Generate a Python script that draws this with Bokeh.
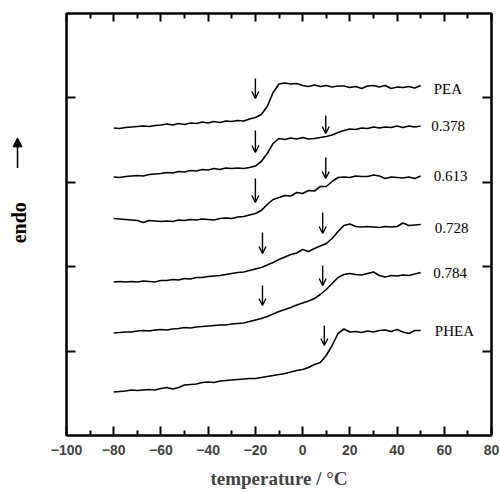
from math import pi
from bokeh.plotting import figure
from bokeh.layouts import row
from bokeh.models import (Range1d, LinearAxis, FixedTicker, Arrow, OpenHead, NormalHead,
                          ColumnDataSource, CustomJSTickFormatter)
from bokeh.core.properties import value
from bokeh.embed import file_html
from bokeh.resources import INLINE

# temperature grid (deg C)
temperature = [-80, -77.5, -75, -72.5, -70, -67.5, -65, -62.5, -60, -57.5, -55, -52.5, -50,
               -47.5, -45, -42.5, -40, -37.5, -35, -32.5, -30, -27.5, -25, -22.5, -20,
               -17.5, -15, -12.5, -10, -7.5, -5, -2.5, 0, 2.5, 5, 7.5, 10, 12.5, 15,
               17.5, 20, 22.5, 25, 27.5, 30, 32.5, 35, 37.5, 40, 42.5, 45, 47.5, 50]

# endotherm signal (arbitrary units, curves shifted vertically)
pea = [307.5, 307, 308, 308.5, 309, 309.5, 309, 310, 310.5, 311.5, 310.5, 312, 311,
       312.5, 312, 313.5, 312.5, 314, 313, 314.5, 314, 315, 314.5, 316.5, 318,
       321, 329, 343, 351.5, 352.5, 351.5, 352, 350, 349, 350.5, 349, 350, 348.5, 349.5,
       349.5, 348, 349, 347, 349.5, 350, 348.5, 350, 347, 348.5, 348, 349, 347.5, 350]
c0378 = [258.5, 258, 259, 259.5, 260, 259.5, 261, 261.5, 262, 263, 262.5, 264, 263.5,
         265, 264.5, 266, 265.5, 267, 266, 267.5, 267, 267.5, 267, 268, 269.5,
         274, 282, 292, 297, 296, 297.5, 296.5, 298, 296.5, 297, 298, 299, 300.5, 303,
         305, 306.5, 306, 307.5, 307, 308.5, 307.5, 308.5, 308, 309.5, 308, 309.5, 308.5, 309.5]
c0613 = [217, 216.5, 216, 215.5, 215, 213, 215, 214.5, 214, 214.5, 214, 215.5, 215,
         216, 215.5, 216.5, 216, 215.5, 217, 217.5, 217, 218.5, 219, 220.5, 222,
         225, 231, 236, 238, 240, 239.5, 243, 242, 245, 244.5, 249, 249, 254, 258,
         258.5, 258, 259.5, 259, 259, 260.5, 259.5, 257, 258.5, 258, 257.5, 258.5, 257, 259.5]
c0728 = [153.5, 154, 153.5, 154, 153.5, 154.5, 154, 153.5, 155, 155, 156, 155.5, 157,
         156.5, 158, 158, 159, 159.5, 160, 161, 162, 163, 163.5, 165, 166.5,
         168, 170.5, 173, 176, 178.5, 181, 182.5, 186, 184, 187, 189.5, 192, 197, 204,
         210, 211.5, 209, 208.5, 209, 208.5, 208, 209, 208.5, 209, 212.5, 210, 210.5, 211]
c0784 = [102.5, 103, 103.5, 103.5, 104.5, 105, 104.5, 105.5, 106, 105.5, 106.5, 107, 108,
         107.5, 108.5, 109, 109.5, 110, 110.5, 110.5, 111.5, 112, 112.5, 114, 115.5,
         117, 119, 121.5, 124, 126, 128, 130.5, 132.5, 134.5, 137, 141, 146, 152, 158,
         161, 162, 161, 160.5, 162, 163.5, 160, 158.5, 160, 159.5, 160.5, 160, 161.5, 163]
phea = [43.5, 44, 44.5, 45.5, 45, 45.5, 46, 45.5, 47, 48, 46.5, 48, 50.5,
        51, 51.5, 53, 53.5, 53, 54.5, 55, 55.5, 56, 56.5, 57, 57,
        58, 59, 60, 61, 62, 63.5, 65, 66, 68, 71, 73, 80, 90, 102,
        106.5, 103.5, 104, 103, 104.5, 103.5, 105, 105.5, 104, 106, 103.5, 102, 105, 105]

curve_names = ["PEA", "0.378", "0.613", "0.728", "0.784", "PHEA"]
curves = [pea, c0378, c0613, c0728, c0784, phea]
label_x = [55.5, 54.5, 55.5, 56, 55.3, 56]
label_y = [347, 310, 260, 208, 163, 105]

# glass-transition arrows (temperature, top, tip)
arrow_t = [-20, -20, 9.8, -20, 9.8, -17, 8.5, -17, 8.5, 9.2]
arrow_top = [357, 305, 320, 257, 278, 203, 223, 150, 170, 110]
arrow_tip = [337, 283, 302, 233, 257, 182, 202, 130, 150, 90]

x_ticks = [-100, -80, -60, -40, -20, 0, 20, 40, 60, 80]
x_minor = [-90, -70, -50, -30, -10, 10, 30, 50, 70]
y_ticks = [84.4, 168.8, 253.2, 337.6]

blank = CustomJSTickFormatter(code="return ''")

# ---- narrow strip holding the vertical "endo ->" title ----
fl = figure(width=34, height=492, output_backend="svg", toolbar_location=None,
            x_range=Range1d(0, 34), y_range=Range1d(0, 492),
            min_border=0, min_border_left=0, min_border_right=0,
            min_border_top=0, min_border_bottom=0)
fl.axis.visible = False
fl.grid.visible = False
fl.outline_line_color = None
fl.background_fill_color = "white"
fl.border_fill_color = "white"
fl.text(x=[18], y=[248], text=["endo"], angle=pi / 2, text_align="center",
        text_baseline="middle", text_font=value("Liberation Serif"),
        text_font_style="bold", text_font_size="20px", text_color="black")
fl.add_layout(Arrow(x_start=17, y_start=312, x_end=17, y_end=347,
                    line_color="black", line_width=1.5,
                    end=NormalHead(size=9, fill_color="black", line_color="black")))

# ---- main plot ----
p = figure(width=466, height=492, output_backend="svg", toolbar_location=None,
           x_range=Range1d(-100, 80), y_range=Range1d(0, 422),
           min_border_left=32, min_border_right=9, min_border_top=13, min_border_bottom=57)
p.grid.visible = False
p.background_fill_color = "white"
p.border_fill_color = "white"
p.outline_line_color = "black"
p.outline_line_width = 2

# bottom axis
xa = p.xaxis[0]
xa.ticker = FixedTicker(ticks=x_ticks, minor_ticks=x_minor)
xa.major_tick_in = 9
xa.major_tick_out = 0
xa.minor_tick_in = 5
xa.minor_tick_out = 0
xa.axis_line_width = 2
xa.major_tick_line_width = 2
xa.minor_tick_line_width = 2
xa.major_label_text_font = "Liberation Sans"
xa.major_label_text_font_style = "bold"
xa.major_label_text_font_size = "14px"
xa.major_label_standoff = 9
xa.axis_label = "temperature / °C"
xa.axis_label_text_font = "Liberation Serif"
xa.axis_label_text_font_style = "bold"
xa.axis_label_text_font_size = "19px"
xa.axis_label_standoff = 10

# left axis
ya = p.yaxis[0]
ya.ticker = FixedTicker(ticks=y_ticks, minor_ticks=[])
ya.major_tick_in = 9
ya.major_tick_out = 0
ya.axis_line_width = 2
ya.major_tick_line_width = 2
ya.formatter = blank
ya.major_label_standoff = 0

# top axis
ta = LinearAxis(ticker=FixedTicker(ticks=x_ticks, minor_ticks=x_minor), formatter=blank,
                major_tick_in=8, major_tick_out=0, minor_tick_in=5, minor_tick_out=0,
                axis_line_width=2, major_tick_line_width=2, minor_tick_line_width=2,
                major_label_standoff=0)
p.add_layout(ta, "above")

# right axis
ra = LinearAxis(ticker=FixedTicker(ticks=y_ticks, minor_ticks=[]), formatter=blank,
                major_tick_in=9, major_tick_out=0, minor_tick_in=0, minor_tick_out=0,
                axis_line_width=2, major_tick_line_width=2, major_label_standoff=0)
p.add_layout(ra, "right")

for ys in curves:
    p.line(temperature, ys, line_color="black", line_width=1.6)

p.text(x=label_x, y=label_y, text=curve_names, text_font=value("Liberation Serif"),
       text_font_size="15px", text_baseline="middle", text_align="left", text_color="black")

asrc = ColumnDataSource(data=dict(x=arrow_t, y0=arrow_top, y1=arrow_tip))
p.add_layout(Arrow(x_start="x", y_start="y0", x_end="x", y_end="y1", source=asrc,
                   line_color="black", line_width=1.4,
                   end=OpenHead(size=7, line_color="black", line_width=1.4)))

layout = row(fl, p, spacing=0)
open("out.html", "w").write(file_html(layout, INLINE))
